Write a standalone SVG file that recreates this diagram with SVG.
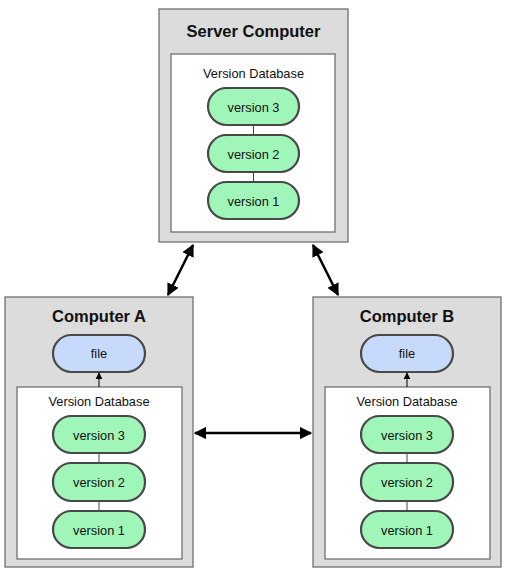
<svg xmlns="http://www.w3.org/2000/svg" width="508" height="573" viewBox="0 0 508 573">
<style>
.box{fill:#dcdcdc;stroke:#707070;stroke-width:1.3}
.db{fill:#fff;stroke:#707070;stroke-width:1.3}
.ver{fill:#a0f6b8;stroke:#484848;stroke-width:2.2}
.file{fill:#c8dafc;stroke:#484848;stroke-width:2.2}
.title{font-family:"Liberation Sans",Arial,sans-serif;font-weight:bold;font-size:16.5px;fill:#111;text-anchor:middle}
.lbl{font-family:"Liberation Sans",Arial,sans-serif;font-size:12.8px;fill:#111;text-anchor:middle}
.link{stroke:#444;stroke-width:1}
.arr{stroke:#000;stroke-width:2.5;fill:none}
.small{stroke:#000;stroke-width:1;fill:none}
</style>
<defs>
<marker id="ah" viewBox="0 0 10 10" refX="9" refY="5" markerWidth="5" markerHeight="5" orient="auto-start-reverse" markerUnits="strokeWidth">
<path d="M0,0 L10,5 L0,10 z" fill="#000"/>
</marker>
<marker id="ahs" viewBox="0 0 10 10" refX="9" refY="5" markerWidth="7" markerHeight="8" orient="auto" markerUnits="strokeWidth">
<path d="M0,0 L10,5 L0,10 z" fill="#000"/>
</marker>
</defs>
<g id="server">
<rect class="box" x="159" y="9" width="189" height="233"/>
<text class="title" x="253.5" y="37">Server Computer</text>
<rect class="db" x="171" y="54" width="164" height="178"/>
<text class="lbl" x="253.5" y="78">Version Database</text>
<line class="link" x1="253.5" y1="125" x2="253.5" y2="135"/>
<line class="link" x1="253.5" y1="172" x2="253.5" y2="182"/>
<rect class="ver" x="208" y="88" width="91" height="37" rx="18.5"/>
<text class="lbl" x="253.5" y="111.5">version 3</text>
<rect class="ver" x="208" y="135" width="91" height="37" rx="18.5"/>
<text class="lbl" x="253.5" y="158.5">version 2</text>
<rect class="ver" x="208" y="182" width="91" height="37" rx="18.5"/>
<text class="lbl" x="253.5" y="205.5">version 1</text>
</g>
<g id="computerA">
<rect class="box" x="5" y="297" width="188" height="270"/>
<text class="title" x="99" y="322">Computer A</text>
<rect class="file" x="53" y="335" width="92" height="37" rx="18.5"/>
<text class="lbl" x="99" y="358">file</text>
<rect class="db" x="17" y="387" width="165" height="172"/>
<text class="lbl" x="99" y="406">Version Database</text>
<line class="link" x1="99" y1="453" x2="99" y2="463"/>
<line class="link" x1="99" y1="501" x2="99" y2="511"/>
<rect class="ver" x="53" y="416" width="92" height="37" rx="18.5"/>
<text class="lbl" x="99" y="439.5">version 3</text>
<rect class="ver" x="53" y="463" width="92" height="38" rx="18.5"/>
<text class="lbl" x="99" y="487">version 2</text>
<rect class="ver" x="53" y="511" width="92" height="37" rx="18.5"/>
<text class="lbl" x="99" y="534.5">version 1</text>
</g>
<g id="computerB">
<rect class="box" x="313" y="297" width="188" height="270"/>
<text class="title" x="407" y="322">Computer B</text>
<rect class="file" x="361" y="335" width="92" height="37" rx="18.5"/>
<text class="lbl" x="407" y="358">file</text>
<rect class="db" x="325" y="387" width="165" height="172"/>
<text class="lbl" x="407" y="406">Version Database</text>
<line class="link" x1="407" y1="453" x2="407" y2="463"/>
<line class="link" x1="407" y1="501" x2="407" y2="511"/>
<rect class="ver" x="361" y="416" width="92" height="37" rx="18.5"/>
<text class="lbl" x="407" y="439.5">version 3</text>
<rect class="ver" x="361" y="463" width="92" height="38" rx="18.5"/>
<text class="lbl" x="407" y="487">version 2</text>
<rect class="ver" x="361" y="511" width="92" height="37" rx="18.5"/>
<text class="lbl" x="407" y="534.5">version 1</text>
</g>
<g id="connectors">
<line class="arr" x1="193" y1="245" x2="168" y2="295" marker-start="url(#ah)" marker-end="url(#ah)"/>
<line class="arr" x1="313" y1="245" x2="338" y2="295" marker-start="url(#ah)" marker-end="url(#ah)"/>
<line class="arr" x1="195" y1="433" x2="311" y2="433" marker-start="url(#ah)" marker-end="url(#ah)"/>
<line class="small" x1="99" y1="387" x2="99" y2="373" marker-end="url(#ahs)"/>
<line class="small" x1="407" y1="387" x2="407" y2="373" marker-end="url(#ahs)"/>
</g>
</svg>
